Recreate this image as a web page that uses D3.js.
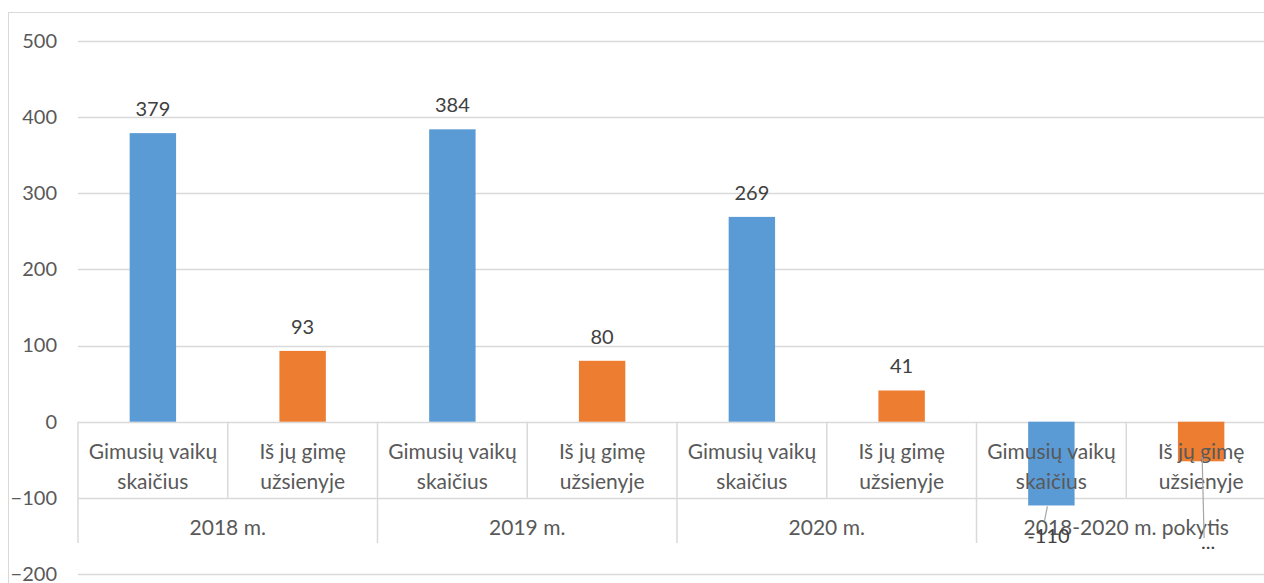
<!DOCTYPE html>
<html>
<head>
<meta charset="utf-8">
<script src="https://cdn.jsdelivr.net/npm/d3@7"></script>
<style>
  body { margin: 0; background: #fff; }
  svg { display: block; font-family: "Lato", "Open Sans", sans-serif; }
</style>
</head>
<body>
<svg id="chart"></svg>
<script>
const groups = ['2018 m.', '2019 m.', '2020 m.', '2018-2020 m. pokytis'];
const subCats = [['Gimusių vaikų', 'skaičius'], ['Iš jų gimę', 'užsienyje']];
const bornValues = [379, 384, 269, -110];
const abroadValues = [93, 80, 41, -52];
const yTicks = [-200, -100, 0, 100, 200, 300, 400, 500];
const colors = ['#5b9bd5', '#ed7d31'];

const W = 1264, H = 583;
const svg = d3.select('#chart').attr('width', W).attr('height', H);

// outer frame
svg.append('rect')
  .attr('x', 8.5).attr('y', 12.5)
  .attr('width', W + 10).attr('height', H + 10)
  .attr('fill', 'none').attr('stroke', '#d9d9d9');

const left = 78;
const groupW = 299.5;

const y = d3.scaleLinear().domain([-200, 500]).range([574, 41]);
const x0 = d3.scaleBand().domain(groups).range([left, left + groupW * groups.length]);
const x1 = d3.scaleBand().domain([0, 1]).range([0, x0.bandwidth()]);
const barW = x1.bandwidth() * 0.31;

// gridlines
svg.append('g').selectAll('line')
  .data(yTicks.filter(d => d !== -100 && d !== 0))
  .enter().append('line')
  .attr('x1', left).attr('x2', W)
  .attr('y1', d => Math.round(y(d)) + 0.5).attr('y2', d => Math.round(y(d)) + 0.5)
  .attr('stroke', '#d9d9d9').attr('stroke-width', 1.5);

// y axis labels
const yAxis = d3.axisLeft(y).tickValues(yTicks).tickSize(0).tickPadding(0);
const ya = svg.append('g').attr('transform', 'translate(57,0)').call(yAxis);
ya.select('.domain').remove();
ya.selectAll('text')
  .attr('font-size', 20).attr('fill', '#595959')
  .attr('font-family', 'Lato, "Open Sans", sans-serif');

// category table lines
const rowTop = y(0), rowMid = y(-100), rowBot = 543;
const tbl = svg.append('g').attr('stroke', '#d9d9d9').attr('stroke-width', 1.5);
[rowTop, rowMid].forEach(v => {
  tbl.append('line').attr('x1', left).attr('x2', W)
    .attr('y1', Math.round(v) + 0.5).attr('y2', Math.round(v) + 0.5);
});
groups.forEach(g => {
  tbl.append('line')
    .attr('x1', x0(g)).attr('x2', x0(g))
    .attr('y1', rowTop).attr('y2', rowBot);
  tbl.append('line')
    .attr('x1', x0(g) + x1(1)).attr('x2', x0(g) + x1(1))
    .attr('y1', rowTop).attr('y2', rowMid);
});

// bars
const rows = groups.map((g, i) => [
  { g, s: 0, v: bornValues[i] },
  { g, s: 1, v: abroadValues[i] }
]);
const flat = rows.flat();

svg.append('g').selectAll('rect')
  .data(flat)
  .enter().append('rect')
  .attr('x', d => x0(d.g) + x1(d.s) + (x1.bandwidth() - barW) / 2)
  .attr('y', d => y(Math.max(0, d.v)))
  .attr('width', barW)
  .attr('height', d => Math.abs(y(d.v) - y(0)))
  .attr('fill', d => colors[d.s]);

// sub category labels
const sub = svg.append('g').attr('font-size', 21).attr('fill', '#595959').attr('text-anchor', 'middle');
groups.forEach(g => {
  subCats.forEach((lines, s) => {
    const cx = x0(g) + x1(s) + x1.bandwidth() / 2;
    lines.forEach((t, k) => {
      sub.append('text').attr('x', cx).attr('y', 459 + k * 30).text(t);
    });
  });
  sub.append('text').attr('x', x0(g) + x0.bandwidth() / 2).attr('y', 535).text(g);
});

// data labels
const lab = svg.append('g').attr('font-size', 20).attr('fill', '#404040').attr('text-anchor', 'middle');
flat.forEach(d => {
  const cx = x0(d.g) + x1(d.s) + x1.bandwidth() / 2;
  if (d.v >= 0) {
    lab.append('text').attr('x', cx).attr('y', y(d.v) - 17).text(d.v);
  }
});

// negative bars: labels pushed below with leader lines
const neg = flat.filter(d => d.v < 0);
const nb = neg[0], no = neg[1];
const cb = x0(nb.g) + x1(nb.s) + x1.bandwidth() / 2;
svg.append('line')
  .attr('x1', cb - 4).attr('y1', y(nb.v) + 1)
  .attr('x2', cb - 7).attr('y2', y(nb.v) + 16)
  .attr('stroke', '#a6a6a6').attr('stroke-width', 1.2);
lab.append('text').attr('x', cb - 3).attr('y', y(nb.v) + 38).text(nb.v);

const co = x0(no.g) + x1(no.s) + x1.bandwidth() / 2;
svg.append('line')
  .attr('x1', co + 1).attr('y1', y(0) + 35)
  .attr('x2', co + 3).attr('y2', 538)
  .attr('stroke', '#a6a6a6').attr('stroke-width', 1.2);
lab.append('text').attr('x', co + 7).attr('y', 549).text('...');
</script>
</body>
</html>
